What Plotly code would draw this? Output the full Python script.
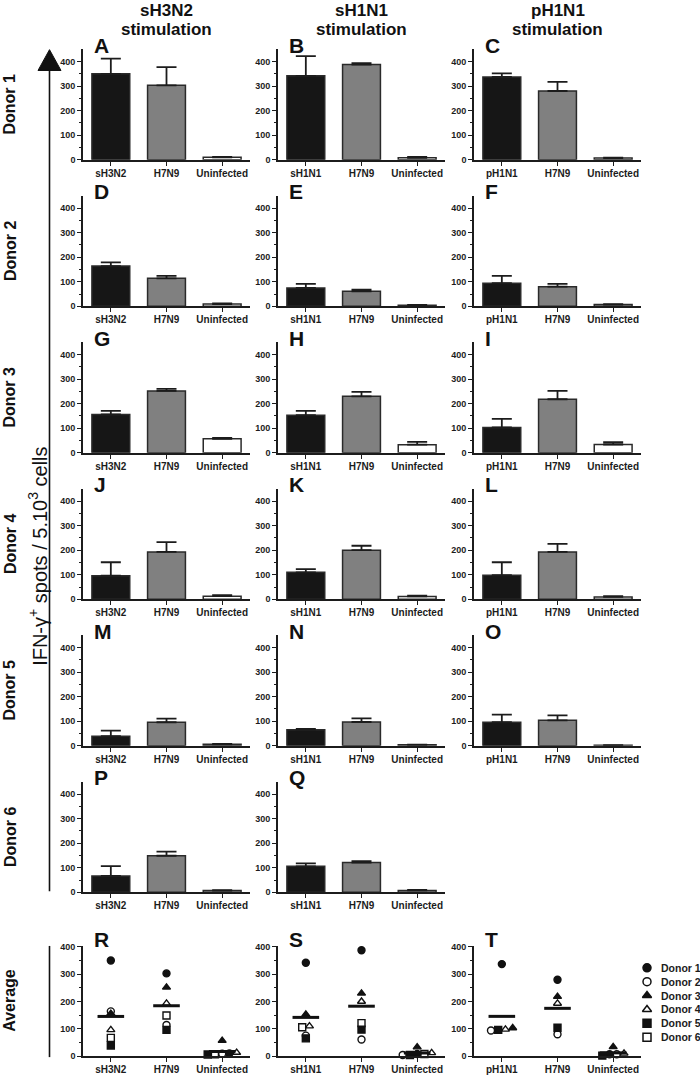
import numpy as np
import plotly.graph_objects as go

# ---------------- data ----------------
stimulations = ["sH3N2", "sH1N1", "pH1N1"]
other_categories = ["H7N9", "Uninfected"]
donor_names = ["Donor 1", "Donor 2", "Donor 3", "Donor 4", "Donor 5", "Donor 6"]
row_labels = ["Donor 1", "Donor 2", "Donor 3", "Donor 4", "Donor 5", "Donor 6"]
panel_letters = [["A", "B", "C"], ["D", "E", "F"], ["G", "H", "I"],
                 ["J", "K", "L"], ["M", "N", "O"], ["P", "Q", None]]
average_letters = ["R", "S", "T"]
y_title = "IFN-γ<sup>+</sup> spots / 5.10<sup>3</sup> cells"

# per donor: [stimulating strain, H7N9, Uninfected]
sh3n2_values = [[350, 303, 10], [164, 114, 9], [156, 252, 57],
                [96, 193, 13], [39, 96, 6], [67, 149, 7]]
sh3n2_errors = [[62, 74, 2], [15, 10, 3], [15, 8, 4],
                [55, 40, 4], [23, 15, 2], [40, 17, 2]]
sh1n1_values = [[342, 388, 8], [75, 61, 4], [153, 230, 33],
                [110, 200, 12], [65, 97, 4], [106, 121, 8]]
sh1n1_errors = [[80, 5, 4], [16, 7, 2], [18, 18, 12],
                [13, 18, 3], [4, 15, 1], [12, 6, 2]]
ph1n1_values = [[337, 280, 7], [94, 80, 7], [103, 218, 34],
                [98, 193, 10], [96, 104, 2]]
ph1n1_errors = [[15, 37, 2], [30, 11, 2], [35, 34, 9],
                [53, 33, 3], [31, 20, 1]]

column_values = [sh3n2_values, sh1n1_values, ph1n1_values]
column_errors = [sh3n2_errors, sh1n1_errors, ph1n1_errors]

# ---------------- style ----------------
W, H = 700, 1077
FONT = "Liberation Sans, Arial, sans-serif"
bar_colors = ["#161616", "#808080", "#ffffff"]
donor_symbols = ["circle", "circle-open", "triangle-up", "triangle-up-open",
                 "square", "square-open"]
ink = "#1c1c1c"
col_x0 = [83, 278, 474]
panel_w = 167
row_zero = [158 + 147.6 * r for r in range(6)]
panel_h = 111.4
avg_zero = 1061


def fx(x):
    return x / W


def fy(y):
    return 1 - y / H


fig = go.Figure()
layout = dict(width=W, height=H, margin=dict(l=0, r=0, t=0, b=0),
              paper_bgcolor="white", plot_bgcolor="white", showlegend=False,
              font=dict(family=FONT, color=ink))
annotations = []
shapes = []
axis_n = [0]


def new_axes(col, zero_px, yrange, cats):
    axis_n[0] += 1
    n = axis_n[0]
    sx = "" if n == 1 else str(n)
    layout["xaxis" + sx] = dict(
        domain=[fx(col_x0[col]), fx(col_x0[col] + panel_w)], anchor="y" + sx,
        range=[-0.5, 2.5], tickvals=[0, 1, 2], ticktext=cats,
        ticks="outside", ticklen=4, tickwidth=1.3, tickcolor=ink,
        ticklabelstandoff=-1,
        showline=True, linewidth=1.6, linecolor=ink, showgrid=False,
        zeroline=False, fixedrange=True,
        tickfont=dict(family=FONT, size=10, color=ink, weight="bold"))
    layout["yaxis" + sx] = dict(
        domain=[fy(zero_px), fy(zero_px - panel_h)], anchor="x" + sx,
        range=yrange, tickvals=[0, 100, 200, 300, 400],
        ticks="outside", ticklen=4, tickwidth=1.3, tickcolor=ink,
        minor=dict(tickvals=[50, 150, 250, 350], ticks="outside", ticklen=2.5,
                   tickwidth=1, tickcolor=ink, showgrid=False),
        showline=True, linewidth=1.6, linecolor=ink, showgrid=False,
        zeroline=False, fixedrange=True,
        tickfont=dict(family=FONT, size=9, color=ink, weight="bold"))
    return "x" + sx, "y" + sx


def letter(text, col, top_px):
    if not text:
        return
    annotations.append(dict(text=text, xref="paper", yref="paper",
                            x=fx(col_x0[col] + 9), y=fy(top_px),
                            xanchor="left", yanchor="middle", showarrow=False,
                            font=dict(family=FONT, size=21, color="#111111",
                                      weight="bold")))


# ---------------- bar panels ----------------
for col in range(3):
    cats = [stimulations[col]] + other_categories
    for r, (vals, errs) in enumerate(zip(column_values[col], column_errors[col])):
        xa, ya = new_axes(col, row_zero[r], [0, 450], cats)
        fig.add_trace(go.Bar(
            x=list(range(len(cats))), y=vals, width=0.68, xaxis=xa, yaxis=ya,
            marker=dict(color=bar_colors, line=dict(color="#2a2a2a", width=1.5)),
            error_y=dict(type="data", array=errs, arrayminus=[0] * len(errs),
                         symmetric=False, thickness=1.8, width=10, color=ink),
            cliponaxis=False))
        letter(panel_letters[r][col], col, row_zero[r] - panel_h - 4)


# ---------------- average panels ----------------
def spread_offsets(vals, thr=5, step=0.13):
    order = sorted(range(len(vals)), key=lambda i: vals[i])
    groups, cur = [], [order[0]]
    for i in order[1:]:
        if vals[i] - vals[cur[-1]] <= thr:
            cur.append(i)
        else:
            groups.append(cur)
            cur = [i]
    groups.append(cur)
    off = [0.0] * len(vals)
    for g in groups:
        for k, i in enumerate(g):
            off[i] = (k - (len(g) - 1) / 2) * step
    return off


for col in range(3):
    cats = [stimulations[col]] + other_categories
    xa, ya = new_axes(col, avg_zero, [0, 405], cats)
    data = np.array(column_values[col], dtype=float)  # donors x categories
    nd = data.shape[0]
    offsets = np.zeros_like(data)
    for c in range(data.shape[1]):
        offsets[:, c] = spread_offsets(list(data[:, c]))
    for d in range(nd):
        fig.add_trace(go.Scatter(
            x=np.arange(data.shape[1]) + offsets[d], y=data[d], mode="markers",
            xaxis=xa, yaxis=ya, cliponaxis=False,
            marker=dict(symbol=donor_symbols[d], size=7, color="#111111",
                        line=dict(color="#111111", width=1.4))))
    fig.add_trace(go.Scatter(
        x=np.arange(data.shape[1]), y=data.mean(axis=0), mode="markers",
        xaxis=xa, yaxis=ya, cliponaxis=False,
        marker=dict(symbol="line-ew-open", size=19, color="#111111",
                    line=dict(color="#111111", width=3))))
    letter(average_letters[col], col, avg_zero - panel_h - 6)

# ---------------- legend ----------------
axis_n[0] += 1
sx = str(axis_n[0])
layout["xaxis" + sx] = dict(domain=[fx(636), fx(658)], anchor="y" + sx,
                            range=[0, 1], visible=False, fixedrange=True)
layout["yaxis" + sx] = dict(domain=[fy(1049), fy(965)], anchor="x" + sx,
                            range=[len(donor_names) + 0.5, 0.5], visible=False,
                            fixedrange=True)
for d, name in enumerate(donor_names):
    fig.add_trace(go.Scatter(
        x=[0.5], y=[d + 1], mode="markers", xaxis="x" + sx, yaxis="y" + sx,
        marker=dict(symbol=donor_symbols[d], size=8, color="#111111",
                    line=dict(color="#111111", width=1.5))))
    annotations.append(dict(text=name, xref="paper", yref="y" + sx,
                            x=fx(659), y=d + 1, xanchor="left", yanchor="middle",
                            showarrow=False,
                            font=dict(family=FONT, size=10.5, color=ink,
                                      weight="bold")))

# ---------------- headers and side labels ----------------
for col in range(3):
    cx = fx(col_x0[col] + panel_w / 2)
    annotations.append(dict(text=stimulations[col], xref="paper", yref="paper",
                            x=cx, y=fy(8), xanchor="center", yanchor="middle",
                            showarrow=False,
                            font=dict(family=FONT, size=17, color="#111111",
                                      weight="bold")))
    annotations.append(dict(text="stimulation", xref="paper", yref="paper",
                            x=cx, y=fy(27), xanchor="center", yanchor="middle",
                            showarrow=False,
                            font=dict(family=FONT, size=17, color="#111111",
                                      weight="bold")))

for r, lab in enumerate(row_labels):
    annotations.append(dict(text=lab, xref="paper", yref="paper",
                            x=fx(10), y=fy(row_zero[r] - panel_h / 2),
                            xanchor="center", yanchor="middle", textangle=-90,
                            showarrow=False,
                            font=dict(family=FONT, size=16, color="#111111",
                                      weight="bold")))
annotations.append(dict(text="Average", xref="paper", yref="paper",
                        x=fx(10), y=fy(avg_zero - panel_h / 2),
                        xanchor="center", yanchor="middle", textangle=-90,
                        showarrow=False,
                        font=dict(family=FONT, size=16, color="#111111",
                                  weight="bold")))
annotations.append(dict(text=y_title, xref="paper", yref="paper",
                        x=fx(38), y=fy(558), xanchor="center", yanchor="middle",
                        textangle=-90, showarrow=False,
                        font=dict(family=FONT, size=20, color="#111111")))

# arrow and bracket lines
shapes.append(dict(type="line", xref="paper", yref="paper",
                   x0=fx(49.5), x1=fx(49.5), y0=fy(66), y1=fy(895),
                   line=dict(color="#111111", width=1.6)))
shapes.append(dict(type="path", xref="paper", yref="paper",
                   path="M {} {} L {} {} L {} {} Z".format(
                       fx(38), fy(68), fx(61), fy(68), fx(49.5), fy(47)),
                   fillcolor="#111111", line=dict(color="#111111", width=1)))
shapes.append(dict(type="line", xref="paper", yref="paper",
                   x0=fx(49.5), x1=fx(49.5), y0=fy(950), y1=fy(1062),
                   line=dict(color="#111111", width=1.6)))

layout["annotations"] = annotations
layout["shapes"] = shapes
fig.update_layout(**layout)
fig.write_html("out.html",
               config={"displayModeBar": False},
               post_script="document.body.style.margin='0';"
                           "document.body.style.overflow='hidden';")
